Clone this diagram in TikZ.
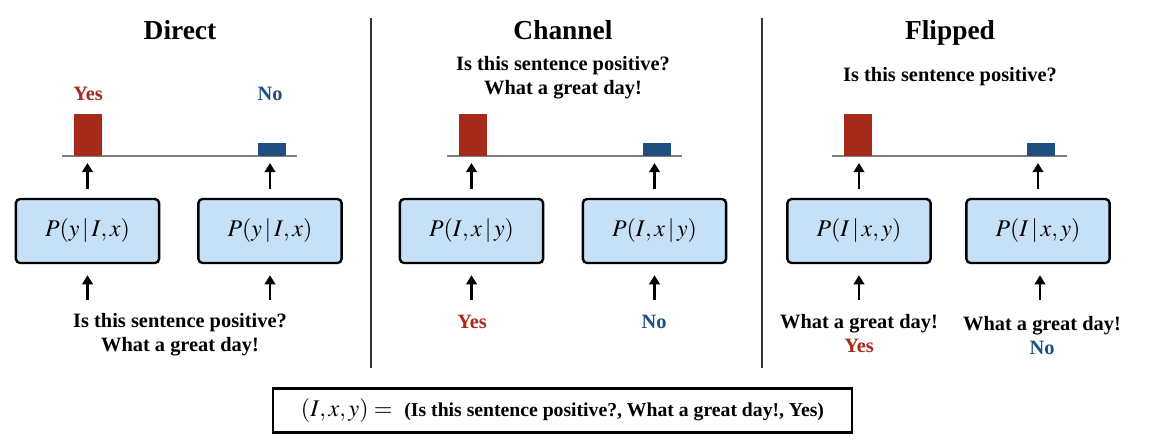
\documentclass[tikz,border=0pt]{standalone}
\usepackage{mathptmx}
\usepackage[no-math]{fontspec}
\setmainfont{Liberation Serif}
\usetikzlibrary{arrows.meta,positioning}
\definecolor{yesred}{RGB}{165,42,26}
\definecolor{noblue}{RGB}{31,78,128}
\definecolor{boxblue}{RGB}{197,224,247}
\definecolor{axisgray}{RGB}{128,128,128}

\begin{document}
\begin{tikzpicture}[x=0.025cm, y=-0.025cm,
  probbox/.style={draw, line width=1.7pt, rounded corners=3pt, fill=boxblue, minimum width=3.58cm, minimum height=1.6cm, font=\fontsize{17}{20}\selectfont},
  title/.style={font=\fontsize{19.5}{22}\selectfont\bfseries, anchor=base},
  txt/.style={font=\fontsize{14.5}{17.5}\selectfont\bfseries, align=center},
  bar/.style={inner sep=0pt, minimum width=0.7cm, anchor=south},
  axisline/.style={draw=axisgray, line width=1.4pt},
  sepline/.style={draw=black!80, line width=1pt},
  uparrow/.style={-{Triangle[length=6.5pt,width=7.5pt]}, line width=1.8pt},
  toarrow/.style={uparrow, shorten <=0.225cm, shorten >=0.175cm},
  inarrow/.style={uparrow, shorten >=0.275cm}
]
\useasboundingbox (0,0) rectangle (1160,444);

% titles and separators
\node[title] (tdirect) at (180,40) {Direct};
\node[title] (tchannel) at (563,40) {Channel};
\node[title] (tflipped) at (950,40) {Flipped};
\draw[sepline] (371,18) -- (371,368);
\draw[sepline] (762,18) -- (762,368);

% Direct
\node[txt, text=yesred] (dyes) at (88,94) {Yes};
\node[txt, text=noblue] (dno) at (270,94) {No};
\draw[axisline] (62,156) -- (297,156);
\node[bar, fill=yesred, minimum height=1.05cm] (d1bar) at (88,156) {};
\node[bar, fill=noblue, minimum height=0.325cm] (d2bar) at (272,156) {};
\node[probbox] (d1) at (87.5,231) {$P(y\,|\,I,x)$};
\node[probbox] (d2) at (270,231) {$P(y\,|\,I,x)$};
\node[txt] (dtxt) at (180,334.5) {Is this sentence positive?\\What a great day!};
\coordinate (d1in) at (87.5,300);
\coordinate (d2in) at (270,300);

% Channel
\node[txt] (ctxt) at (563,77.5) {Is this sentence positive?\\What a great day!};
\draw[axisline] (447,156) -- (682,156);
\node[bar, fill=yesred, minimum height=1.05cm] (c1bar) at (473,156) {};
\node[bar, fill=noblue, minimum height=0.325cm] (c2bar) at (656.5,156) {};
\node[probbox] (c1) at (471.5,231) {$P(I,x\,|\,y)$};
\node[probbox] (c2) at (654.5,231) {$P(I,x\,|\,y)$};
\node[txt, text=yesred] (cyes) at (472,322) {Yes};
\node[txt, text=noblue] (cno) at (654,322) {No};
\coordinate (c1in) at (471.5,300);
\coordinate (c2in) at (654.5,300);

% Flipped
\node[txt] (ftxt) at (950,77) {Is this sentence positive?};
\draw[axisline] (832,156) -- (1067,156);
\node[bar, fill=yesred, minimum height=1.05cm] (f1bar) at (857.5,156) {};
\node[bar, fill=noblue, minimum height=0.325cm] (f2bar) at (1041,156) {};
\node[probbox] (f1) at (859,231) {$P(I\,|\,x,y)$};
\node[probbox] (f2) at (1038,231) {$P(I\,|\,x,y)$};
\node[txt] (f1txt) at (859,333.5) {What a great day!\\\textcolor{yesred}{Yes}};
\node[txt] (f2txt) at (1042,335.5) {What a great day!\\\textcolor{noblue}{No}};
\coordinate (f1in) at (859,300);
\coordinate (f2in) at (1040,300);

\foreach \m in {d1,d2,c1,c2,f1,f2} {
  \draw[toarrow] (\m.north) -- (\m.north |- \m bar.south);
  \draw[inarrow] (\m in) -- (\m in |- \m.south);
}

% tuple box
\node[draw, line width=1.5pt, minimum width=14.45cm, minimum height=1.1cm, font=\fontsize{17}{20}\selectfont] (tuple) at (562.5,410.5)
  {$(I,x,y) =$\enspace{\bfseries\fontsize{14}{16}\selectfont (Is this sentence positive?, What a great day!, Yes)}};
\end{tikzpicture}
\end{document}
